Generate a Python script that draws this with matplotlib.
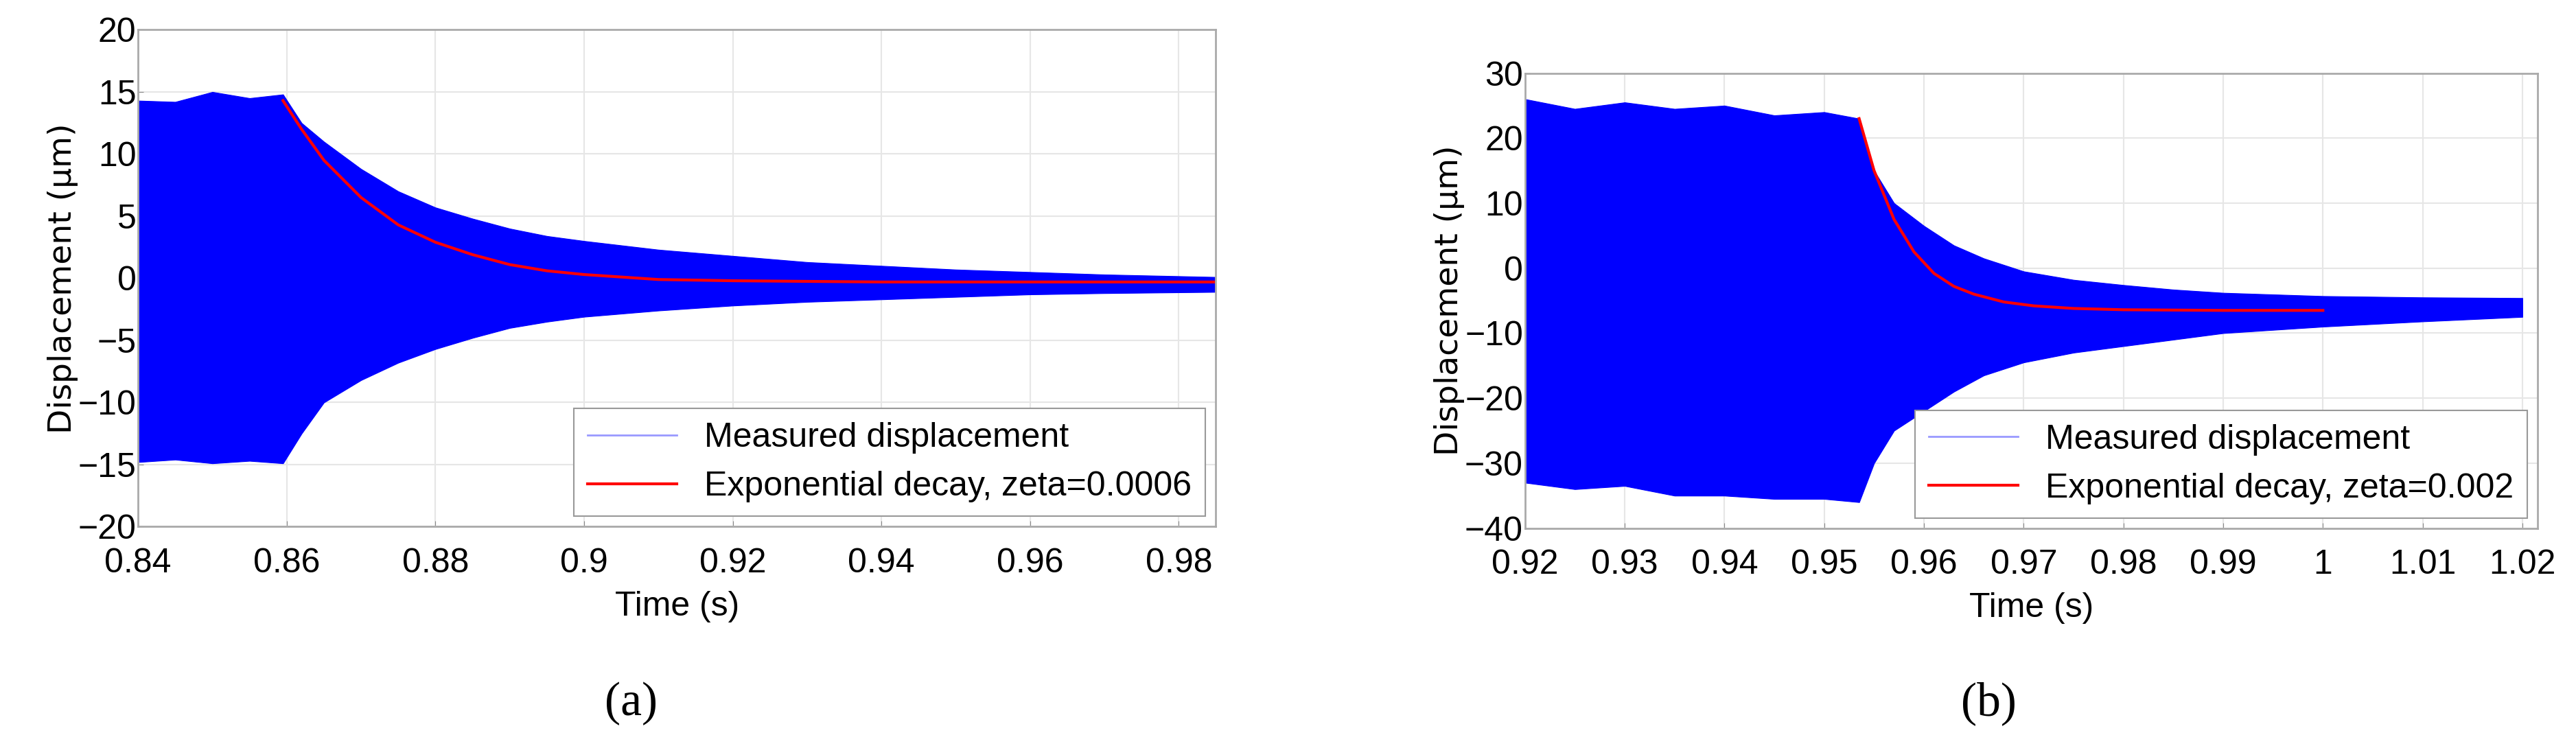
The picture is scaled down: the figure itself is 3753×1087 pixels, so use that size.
import numpy as np
import matplotlib.pyplot as plt

plt.rcParams['font.family'] = ['Liberation Sans', 'DejaVu Sans']

# panel (a): envelope of measured displacement (um)
t_a = [0.840, 0.845, 0.850, 0.855, 0.8595, 0.862, 0.865, 0.870, 0.875, 0.880, 0.885, 0.890,
       0.895, 0.900, 0.910, 0.920, 0.930, 0.940, 0.950, 0.960, 0.970, 0.985]
up_a = [14.3, 14.2, 15.0, 14.5, 14.8, 12.5, 11.0, 8.8, 7.0, 5.7, 4.8, 4.0,
        3.4, 3.0, 2.3, 1.8, 1.3, 1.0, 0.7, 0.5, 0.3, 0.1]
lo_a = [-14.8, -14.6, -14.9, -14.7, -14.9, -12.5, -10.0, -8.2, -6.8, -5.7, -4.8, -4.0,
        -3.5, -3.1, -2.6, -2.2, -1.9, -1.7, -1.5, -1.3, -1.2, -1.1]
tf_a = [0.8595, 0.862, 0.865, 0.870, 0.875, 0.880, 0.885, 0.890, 0.895, 0.900, 0.910, 0.920, 0.940, 0.960, 0.985]
fit_a = [14.3, 12.0, 9.5, 6.5, 4.3, 2.9, 1.9, 1.1, 0.6, 0.3, -0.1, -0.2, -0.3, -0.3, -0.3]

# panel (b)
t_b = [0.920, 0.925, 0.930, 0.935, 0.940, 0.945, 0.950, 0.9535, 0.955, 0.957, 0.960, 0.963,
       0.966, 0.970, 0.975, 0.980, 0.985, 0.990, 1.000, 1.010, 1.020]
up_b = [26.0, 24.5, 25.5, 24.5, 25.0, 23.5, 24.0, 23.0, 15.0, 10.0, 6.5, 3.5,
        1.5, -0.5, -1.8, -2.6, -3.3, -3.8, -4.3, -4.5, -4.6]
lo_b = [-33.0, -34.0, -33.5, -35.0, -35.0, -35.5, -35.5, -36.0, -30.0, -25.0, -22.0, -19.0,
        -16.5, -14.5, -13.0, -12.0, -11.0, -10.0, -9.0, -8.2, -7.5]
tf_b = [0.9535, 0.955, 0.957, 0.959, 0.961, 0.963, 0.965, 0.968, 0.971, 0.975, 0.980, 0.990, 1.000]
fit_b = [23.0, 15.0, 7.5, 2.5, -0.8, -2.8, -4.0, -5.2, -5.8, -6.2, -6.4, -6.5, -6.5]

fig = plt.figure(figsize=(37.53, 10.87), dpi=100)
ax_a = fig.add_axes([0.0536, 0.294, 0.4184, 0.666])
ax_b = fig.add_axes([0.592, 0.292, 0.393, 0.610])


def draw(ax, t, up, lo, tf, fit, zeta, xlim, ylim, xticks, yticks, xlabels):
    ax.fill_between(t, lo, up, color='#0000ff', linewidth=0.8, edgecolor='#0000ff')
    ax.plot([], [], color='#9999ff', linewidth=2, label='Measured displacement')
    ax.plot(tf, fit, color='#ff0000', linewidth=3, label='Exponential decay, zeta=' + zeta)
    ax.set_xlim(*xlim)
    ax.set_ylim(*ylim)
    ax.set_xticks(xticks)
    ax.set_xticklabels(xlabels)
    ax.set_yticks(yticks)
    ax.grid(color='#e6e6e6', linewidth=1.5)
    ax.set_axisbelow(True)
    ax.tick_params(labelsize=36, direction='in', length=6, color='#888888')
    ax.tick_params(axis='x', pad=22)
    ax.tick_params(axis='y', pad=2)
    for s in ax.spines.values():
        s.set_color('#aaaaaa')
        s.set_linewidth(2)
    ax.set_xlabel('Time (s)', fontsize=36, labelpad=12)
    ax.set_ylabel('Displacement (\u03bcm)', fontsize=34, family='DejaVu Sans', labelpad=0)
    leg = ax.legend(loc='lower right', fontsize=36, fancybox=False, framealpha=1,
                    edgecolor='#999999', handlelength=2.6, borderaxespad=0.3)
    leg.get_frame().set_linewidth(1.5)


draw(ax_a, t_a, up_a, lo_a, tf_a, fit_a, '0.0006', (0.84, 0.985), (-20, 20),
     [0.84, 0.86, 0.88, 0.90, 0.92, 0.94, 0.96, 0.98], range(-20, 21, 5),
     ['0.84', '0.86', '0.88', '0.9', '0.92', '0.94', '0.96', '0.98'])
draw(ax_b, t_b, up_b, lo_b, tf_b, fit_b, '0.002', (0.92, 1.0215), (-40, 30),
     [0.92, 0.93, 0.94, 0.95, 0.96, 0.97, 0.98, 0.99, 1.0, 1.01, 1.02], range(-40, 31, 10),
     ['0.92', '0.93', '0.94', '0.95', '0.96', '0.97', '0.98', '0.99', '1', '1.01', '1.02'])

fig.text(0.245, 0.057, '(a)', fontsize=50, family='Liberation Serif', ha='center', va='center')
fig.text(0.772, 0.057, '(b)', fontsize=50, family='Liberation Serif', ha='center', va='center')

fig.savefig('out.png', dpi=100)
